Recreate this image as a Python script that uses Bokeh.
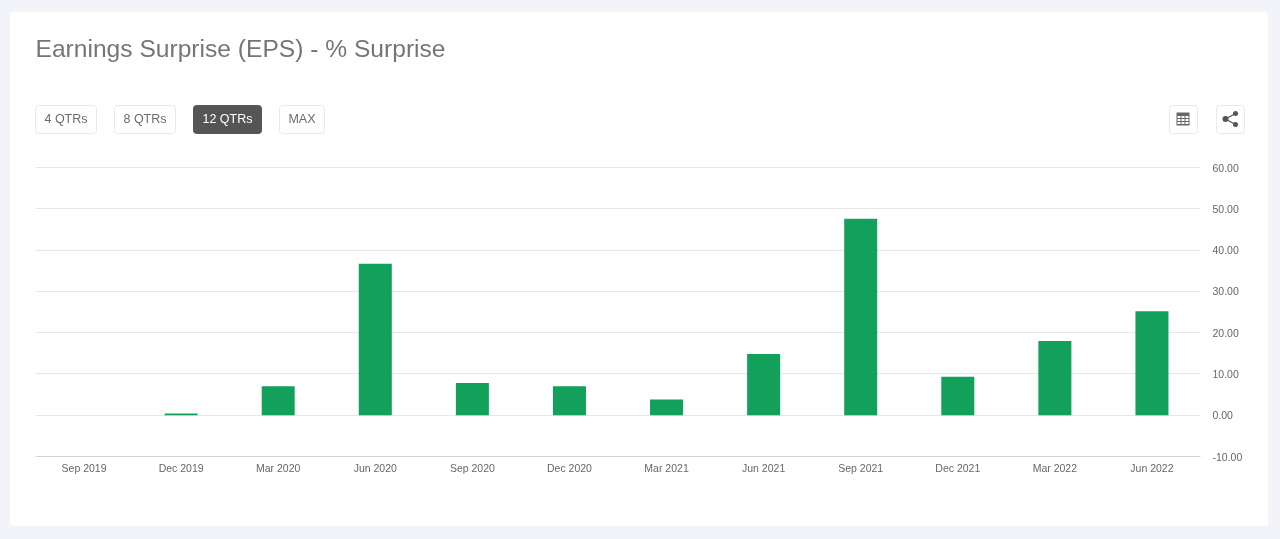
from bokeh.plotting import figure
from bokeh.layouts import column
from bokeh.embed import file_html
from bokeh.resources import INLINE
from bokeh.core.properties import value
from bokeh.models import (FactorRange, Range1d, SingleIntervalTicker,
                          NumeralTickFormatter, BoxAnnotation)

quarters = ["Sep 2019", "Dec 2019", "Mar 2020", "Jun 2020", "Sep 2020", "Dec 2020",
            "Mar 2021", "Jun 2021", "Sep 2021", "Dec 2021", "Mar 2022", "Jun 2022"]
surprise = [0.0, 0.4, 7.0, 36.7, 7.8, 7.0, 3.8, 14.8, 47.6, 9.3, 18.0, 25.2]
y_min, y_max, y_step = -10, 60, 10
title_text = "Earnings Surprise (EPS) - % Surprise"
buttons = ["4 QTRs", "8 QTRs", "12 QTRs", "MAX"]
active_button = "12 QTRs"

PAGE_BG = "#f2f4f9"
FONT = "Liberation Sans"
W, H, HEAD = 1280, 539, 160

# Header strip: its frame is the whole strip, so data units are page pixels.
head = figure(width=W, height=HEAD, x_range=Range1d(0, W), y_range=Range1d(HEAD, 0),
              x_axis_type=None, y_axis_type=None, output_backend="svg", toolbar_location=None,
              min_border=0, border_fill_color=None, background_fill_color=None,
              outline_line_color=None, frame_align=False)
head.grid.visible = False


def box(l, t, r, b, fill="white", line=None, radius=0):
    head.add_layout(BoxAnnotation(left=l, right=r, top=t, bottom=b, fill_color=fill, fill_alpha=1,
                                  line_color=line, line_alpha=1 if line else 0,
                                  border_radius=radius, editable=False, level="underlay"))


def label(x, y, s, size, color, align="left"):
    head.text(x=[x], y=[y], text=[s], text_font=value(FONT), text_font_size=value(size),
              text_color=color, text_align=align, text_baseline="middle")


label(35, 48, title_text, "24.6px", "#757575")

spans = [(35, 96), (114, 175), (193, 261), (279, 324)]
for name, (l, r) in zip(buttons, spans):
    on = name == active_button
    box(l, 105, r, 133, fill="#555555" if on else "white", line="#555555" if on else "#e9e9e9", radius=3)
    label((l + r) / 2, 118.5, name, "12.5px", "#ffffff" if on else "#6b6b6b", "center")

# table icon
box(1169, 105, 1197, 133, line="#e9e9e9", radius=3)
box(1176, 112, 1189, 125, fill="#666666")
for cx in (1177, 1181, 1185):
    for cy in (115.5, 118.5, 121.5):
        box(cx, cy, cx + 3, cy + 2, fill="#ffffff")

# share icon
box(1216, 105, 1244, 133, line="#e9e9e9", radius=3)
head.segment(x0=[1225, 1225], y0=[118.5, 118.5], x1=[1235, 1235], y1=[113, 124],
             line_color="#555555", line_width=1.2)
head.scatter(x=[1225, 1235, 1235], y=[118.5, 113, 124], size=[6, 5, 5],
             fill_color="#555555", line_color=None)

# Chart
FT, FB, FL, FR = 166 - HEAD, 456 - HEAD, 35, 1200
top_pad = 1 / ((FB - FT - 1) / (y_max - y_min))
p = figure(width=W, height=H - HEAD, x_range=FactorRange(factors=quarters, range_padding=0),
           y_range=Range1d(y_min, y_max + top_pad), output_backend="svg", toolbar_location=None,
           y_axis_location="right", min_border_left=FL, min_border_right=W - FR,
           min_border_top=FT, min_border_bottom=H - HEAD - FB,
           border_fill_color=None, background_fill_color=None, outline_line_color=None,
           frame_align=False)

p.xaxis.axis_line_color = "#d5d5d5"
p.xaxis.major_tick_line_color = None
p.xaxis.minor_tick_line_color = None
p.xaxis.major_tick_out = 0
p.xaxis.major_label_text_font = FONT
p.xaxis.major_label_text_font_size = "10.5px"
p.xaxis.major_label_text_color = "#666666"
p.xaxis.major_label_standoff = 5
p.xgrid.visible = False

p.yaxis.ticker = SingleIntervalTicker(interval=y_step)
p.yaxis.formatter = NumeralTickFormatter(format="0.00")
p.yaxis.axis_line_color = None
p.yaxis.major_tick_line_color = None
p.yaxis.minor_tick_line_color = None
p.yaxis.major_tick_out = 0
p.yaxis.major_label_text_font = FONT
p.yaxis.major_label_text_font_size = "10.5px"
p.yaxis.major_label_text_color = "#666666"
p.yaxis.major_label_standoff = 8
p.ygrid.grid_line_color = "#e6e6e6"

p.vbar(x=quarters, top=surprise, bottom=0, width=0.34, fill_color="#12a05b", line_color=None)

layout = column(head, p, spacing=0)
html = file_html(layout, INLINE)
css = ("<style>html{background:%s;overflow:hidden;}body{background:transparent !important;}"
       "body::before{content:'';position:fixed;left:10px;top:12px;width:1258px;height:514px;"
       "background:#fff;border-radius:4px;z-index:-1;}</style>" % PAGE_BG)
html = html.replace("<head>", "<head>" + css, 1)
open("out.html", "w").write(html)
